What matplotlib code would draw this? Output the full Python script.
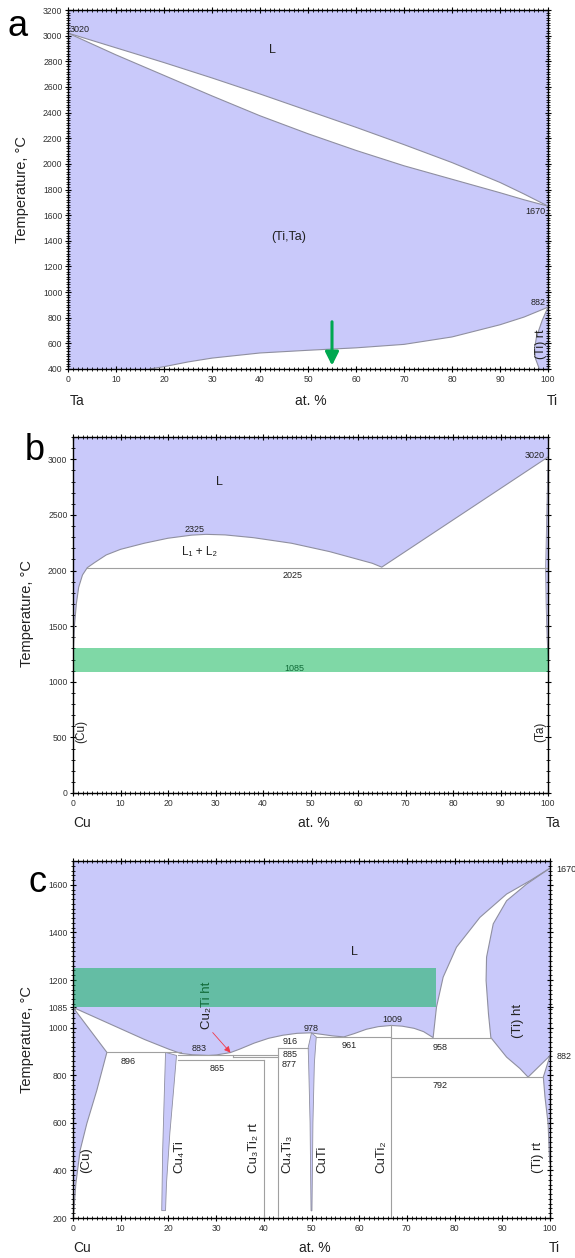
import matplotlib
matplotlib.use('Agg')
import matplotlib.pyplot as plt
from matplotlib.ticker import MultipleLocator

plt.rcParams['font.family'] = ['Liberation Sans', 'DejaVu Sans']

PURPLE = '#C9C9FA'
EDGE = '#8F8FA0'
GRAY = '#A0A0A0'
GREEN = (0.0, 0.70, 0.31)
TXT = '#222222'

# ---- panel a : Ta-Ti ----
a_liq_x = [0, 10, 20, 30, 40, 50, 60, 70, 80, 90, 95, 100]
a_liq_t = [3020, 2905, 2790, 2670, 2545, 2415, 2285, 2150, 2010, 1855, 1765, 1670]
a_sol_x = [0, 5, 10, 20, 30, 40, 50, 60, 70, 80, 90, 95, 100]
a_sol_t = [3020, 2935, 2850, 2690, 2530, 2375, 2235, 2105, 1985, 1880, 1775, 1720, 1670]
a_tr_x = [17, 20, 25, 30, 40, 50, 60, 70, 80, 90, 95, 100]
a_tr_t = [400, 418, 455, 485, 525, 546, 565, 592, 650, 745, 805, 882]
a_tirt_x = [100, 98.8, 97.6, 97.2, 97.4, 98.2]
a_tirt_t = [882, 780, 650, 560, 480, 400]

# ---- panel b : Cu-Ta ----
b_liq_x = [0, 0.1, 0.3, 0.7, 1.2, 2, 3, 4.5, 7, 10, 15, 20, 25, 28, 32, 38, 46, 54, 60, 63, 65, 100]
b_liq_t = [1085, 1300, 1500, 1700, 1850, 1960, 2025, 2070, 2140, 2190, 2245, 2290, 2318, 2325, 2320,
           2295, 2245, 2170, 2100, 2065, 2030, 3020]
b_ta_x = [100, 99.5, 99.6, 99.8, 100]
b_ta_t = [3020, 2025, 1700, 1400, 1200]
b_band = (1085, 1300)

# ---- panel c : Cu-Ti ----
c_liq_x = [0, 5, 10, 15, 20, 22.5, 25, 28.4, 30, 33, 35, 38, 41, 44, 47, 49.8, 52, 54.5, 56.8, 59, 61.5,
           64, 66.7, 69, 71.5, 73.5, 75.5, 76.2, 77.6, 80.4, 85.3, 90.9, 95.8, 100]
c_liq_t = [1085, 1040, 995, 950, 910, 892, 886, 883, 885, 895, 910, 935, 955, 968, 976, 978, 972, 965,
           961, 975, 993, 1004, 1009, 1006, 997, 983, 958, 1086, 1212, 1338, 1463, 1561, 1617, 1670]
c_tiht_x = [100, 95.1, 90.9, 88.1, 86.7, 86.6, 87.1, 87.6, 90.9, 93.7, 95.4, 100]
c_tiht_t = [1670, 1603, 1533, 1436, 1296, 1198, 1058, 958, 876, 828, 792, 882]
c_tirt_x = [100, 98.6, 98.95, 99.6, 99.85, 100]
c_tirt_t = [882, 792, 708, 597, 470, 430]
c_cu_x = [0, 7.1, 5.0, 2.9, 1.5, 0.6, 0.2, 0]
c_cu_t = [1085, 896, 737, 597, 485, 345, 234, 200]
c_cu4ti_x = [19.4, 21.7, 21.2, 20.3, 19.6, 19.4, 18.6, 18.8, 19.1]
c_cu4ti_t = [896, 883, 764, 555, 345, 231, 231, 485, 695]
c_cuti_x = [49.3, 50.0, 51.0, 50.6, 50.3, 50.1, 49.9, 49.7, 49.4]
c_cuti_t = [916, 978, 961, 850, 600, 230, 230, 600, 850]
c_hlines = [(7.1, 22.6, 896), (22.1, 43.0, 885), (33.5, 43.0, 877), (22.1, 40.0, 865),
            (43.0, 49.3, 916), (50.9, 66.7, 961), (66.7, 87.6, 958), (66.7, 98.6, 792)]
c_vlines = [(40.0, 200, 865), (43.0, 200, 916), (66.7, 200, 1009), (33.5, 877, 885)]
c_band = (1085, 1250)
c_band_x = 76


def style_axis(ax, ymin, ymax, yticks, yminor):
    ax.set_xlim(0, 100)
    ax.set_ylim(ymin, ymax)
    ax.set_xticks(range(0, 101, 10))
    ax.xaxis.set_minor_locator(MultipleLocator(1))
    ax.set_yticks(yticks)
    ax.yaxis.set_minor_locator(MultipleLocator(yminor))
    ax.tick_params(which='both', top=True, right=True, direction='inout',
                   labelsize=6.2, labelcolor='#333333', pad=1.5)
    ax.tick_params(which='major', length=5, width=0.8)
    ax.tick_params(which='minor', length=2.5, width=0.6)
    for s in ax.spines.values():
        s.set_linewidth(1.0)
        s.set_zorder(6)


def bottom_labels(ax, left, right, off):
    kw = dict(transform=ax.get_xaxis_transform(), fontsize=10, color=TXT, ha='center', va='center')
    ax.text(2, off, left, **kw)
    ax.text(50.6, off, 'at. %', **kw)
    ax.text(101, off, right, clip_on=False, **kw)


fig = plt.figure(figsize=(5.75, 12.58), dpi=100)

# ================= a =================
ax = fig.add_axes([68 / 575, 1 - 369 / 1258, 480 / 575, 359 / 1258])
style_axis(ax, 400, 3200, range(400, 3201, 200), 20)
ax.fill_between([0, 100], 400, 3200, color=PURPLE, lw=0, zorder=0)
ax.fill(a_liq_x + a_sol_x[::-1], a_liq_t + a_sol_t[::-1], color='white', lw=0, zorder=1)
ax.fill(a_tr_x + [100, 17], a_tr_t + [400, 400], color='white', lw=0, zorder=1)
ax.fill(a_tirt_x + [100], a_tirt_t + [400], color=PURPLE, lw=0, zorder=1)
for xs, ts in [(a_liq_x, a_liq_t), (a_sol_x, a_sol_t), (a_tr_x, a_tr_t), (a_tirt_x, a_tirt_t)]:
    ax.plot(xs, ts, color=EDGE, lw=0.8, zorder=2)
ax.text(0.4, 3050, '3020', fontsize=6.5, color=TXT, ha='left', va='center')
ax.text(99.5, 1625, '1670', fontsize=6.5, color=TXT, ha='right', va='center')
ax.text(99.5, 917, '882', fontsize=6.5, color=TXT, ha='right', va='center')
ax.text(42.6, 2888, 'L', fontsize=9, color=TXT, ha='center', va='center')
ax.text(46, 1430, '(Ti,Ta)', fontsize=9, color=TXT, ha='center', va='center')
ax.text(98.6, 590, '(Ti) rt', fontsize=9, color=TXT, ha='center', va='center', rotation=90)
ax.annotate('', xy=(55, 405), xytext=(55, 790),
            arrowprops=dict(arrowstyle='-|>', color='#00A850', lw=2.2, mutation_scale=20), zorder=5)
bottom_labels(ax, 'Ta', 'Ti', -0.089)
fig.text(22 / 575, 1 - 190 / 1258, 'Temperature, °C', rotation=90, fontsize=10.5, color=TXT,
         ha='center', va='center')
fig.text(18 / 575, 1 - 26 / 1258, 'a', fontsize=26, ha='center', va='center')

# ================= b =================
ax = fig.add_axes([73 / 575, 1 - 793 / 1258, 475 / 575, 356 / 1258])
style_axis(ax, 0, 3200, range(0, 3001, 500), 100)
ax.fill(b_liq_x + [100, 0], b_liq_t + [3200, 3200], color=PURPLE, lw=0, zorder=0)
ax.fill(b_ta_x, b_ta_t, color=PURPLE, lw=0, zorder=0)
ax.plot(b_liq_x, b_liq_t, color=EDGE, lw=0.8, zorder=2)
ax.plot(b_ta_x, b_ta_t, color=EDGE, lw=0.6, zorder=2)
ax.plot([3, 100], [2025, 2025], color=GRAY, lw=0.8, zorder=2)
ax.text(30.8, 2800, 'L', fontsize=9, color=TXT, ha='center', va='center')
ax.text(25.5, 2365, '2325', fontsize=6.5, color=TXT, ha='center', va='center')
ax.text(26.6, 2165, 'L₁ + L₂', fontsize=8.5, color=TXT, ha='center', va='center')
ax.text(46.3, 1957, '2025', fontsize=6.5, color=TXT, ha='center', va='center')
ax.text(99.4, 3030, '3020', fontsize=6.5, color=TXT, ha='right', va='center')
ax.text(46.6, 1120, '1085', fontsize=6.5, color=TXT, ha='center', va='center', zorder=3)
ax.text(1.7, 550, '(Cu)', fontsize=8.5, color=TXT, ha='center', va='center', rotation=90)
ax.text(98.3, 550, '(Ta)', fontsize=8.5, color=TXT, ha='center', va='center', rotation=90)
ax.fill_between([0, 100], b_band[0], b_band[1], color=GREEN, alpha=0.5, lw=0, zorder=4)
bottom_labels(ax, 'Cu', 'Ta', -0.085)
fig.text(27 / 575, 1 - 614 / 1258, 'Temperature, °C', rotation=90, fontsize=10.5, color=TXT,
         ha='center', va='center')
fig.text(35 / 575, 1 - 450 / 1258, 'b', fontsize=26, ha='center', va='center')

# ================= c =================
ax = fig.add_axes([73 / 575, 1 - 1218 / 1258, 477 / 575, 357 / 1258])
style_axis(ax, 200, 1700, [200, 400, 600, 800, 1000, 1085, 1200, 1400, 1600], 20)
ax.fill(c_liq_x + [100, 0], c_liq_t + [1700, 1700], color=PURPLE, lw=0, zorder=0)
for xs, ts in [(c_tiht_x, c_tiht_t), (c_tirt_x + [100], c_tirt_t + [200]), (c_cu_x, c_cu_t),
               (c_cu4ti_x, c_cu4ti_t), (c_cuti_x, c_cuti_t)]:
    ax.fill(xs, ts, color=PURPLE, lw=0, zorder=0)
ax.plot(c_liq_x, c_liq_t, color=EDGE, lw=0.8, zorder=2)
for xs, ts in [(c_tiht_x, c_tiht_t), (c_tirt_x, c_tirt_t), (c_cu_x, c_cu_t)]:
    ax.plot(xs, ts, color=EDGE, lw=0.8, zorder=2)
for xs, ts in [(c_cu4ti_x, c_cu4ti_t), (c_cuti_x, c_cuti_t)]:
    ax.fill(xs, ts, facecolor='none', edgecolor=EDGE, lw=0.6, zorder=2)
for x0, x1, t in c_hlines:
    ax.plot([x0, x1], [t, t], color=GRAY, lw=0.8, zorder=2)
for x, t0, t1 in c_vlines:
    ax.plot([x, x], [t0, t1], color=GRAY, lw=0.8, zorder=2)

for x, t, s in [(11.5, 859, '896'), (26.5, 911, '883'), (30.2, 827, '865'), (45.5, 942, '916'),
                (45.5, 886, '885'), (45.3, 847, '877'), (50.0, 998, '978'), (58.0, 925, '961'),
                (67.0, 1033, '1009'), (77.0, 918, '958'), (77.0, 757, '792')]:
    ax.text(x, t, s, fontsize=6.5, color=TXT, ha='center', va='center')
ax.text(101.3, 1665, '1670', fontsize=6.5, color=TXT, ha='left', va='center', clip_on=False)
ax.text(101.3, 879, '882', fontsize=6.5, color=TXT, ha='left', va='center', clip_on=False)
ax.text(59, 1317, 'L', fontsize=9, color=TXT, ha='center', va='center')
ax.text(93.2, 1030, '(Ti) ht', fontsize=9.5, color=TXT, ha='center', va='center', rotation=90)
ax.text(28.0, 995, 'Cu₂Ti ht', fontsize=9.5, color=TXT, ha='center', va='bottom', rotation=90)
for x, s in [(2.7, '(Cu)'), (22.3, 'Cu₄Ti'), (38.0, 'Cu₃Ti₂ rt'), (44.9, 'Cu₄Ti₃'),
             (52.2, 'CuTi'), (64.7, 'CuTi₂'), (97.5, '(Ti) rt')]:
    ax.text(x, 390, s, fontsize=9.5, color=TXT, ha='center', va='bottom', rotation=90)
ax.annotate('', xy=(33.4, 886), xytext=(28.9, 988),
            arrowprops=dict(arrowstyle='-|>', color='#F03A4A', lw=0.6, mutation_scale=9), zorder=3)
ax.fill_between([0, c_band_x], c_band[0], c_band[1], color=GREEN, alpha=0.5, lw=0, zorder=4)
bottom_labels(ax, 'Cu', 'Ti', -0.084)
fig.text(27 / 575, 1 - 1040 / 1258, 'Temperature, °C', rotation=90, fontsize=10.5, color=TXT,
         ha='center', va='center')
fig.text(37 / 575, 1 - 883 / 1258, 'c', fontsize=26, ha='center', va='center')

fig.savefig('out.png', dpi=100)
